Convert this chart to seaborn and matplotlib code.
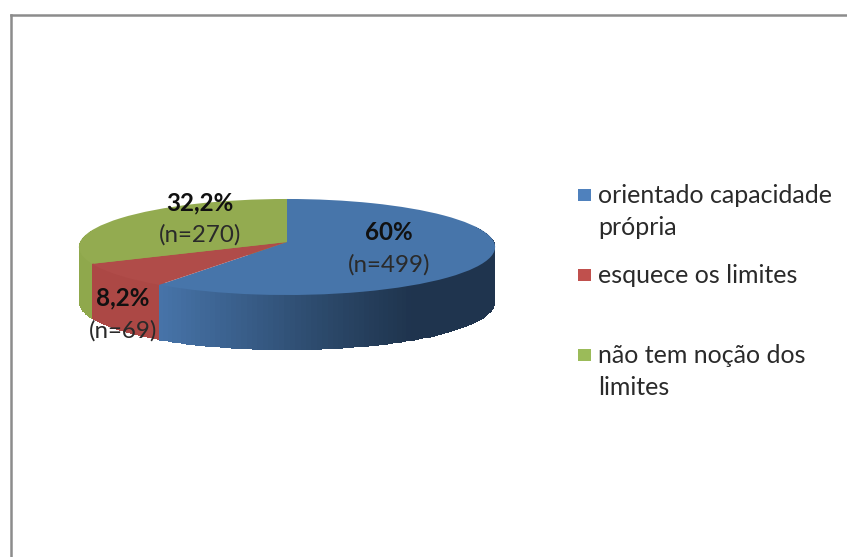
import numpy as np
import matplotlib
matplotlib.use('Agg')
import matplotlib.pyplot as plt
import seaborn as sns
from matplotlib.colors import LinearSegmentedColormap, Normalize
from matplotlib.transforms import Transform

labels = ['orientado capacidade\nprópria', 'esquece os limites', 'não tem noção dos\nlimites']
counts = [499, 69, 270]
percent_labels = ['60%', '8,2%', '32,2%']
top_colors = ['#4775AA', '#B04C49', '#93AB50']
legend_colors = ['#4F81BD', '#C0504D', '#9BBB59']
wall_colors = [['#4774A9', '#395E8A', '#2B4869', '#1F344E', '#1F344E'],
               ['#AC4845', '#AC4845'],
               ['#8FA84C', '#8FA84C']]
label_pos = [(389, 232.5, 265), (123, 297.5, 330.5), (200, 203, 235)]


class Perspective(Transform):
    # tilted disc: the back of the pie looks smaller than the front
    input_dims = 2
    output_dims = 2

    def __init__(self, cx, cy, rx, ry, k):
        super().__init__()
        self.cx, self.cy, self.rx, self.ry, self.k = cx, cy, rx, ry, k

    def transform_non_affine(self, xy):
        xy = np.asarray(xy, dtype=float)
        d = 1 + self.k * xy[:, 1]
        return np.column_stack([self.cx + self.rx * xy[:, 0] / d,
                                self.cy - self.ry * xy[:, 1] / d])


if __name__ == '__main__':
    sns.set_theme(style='white')
    plt.rcParams['font.family'] = ['Lato', 'DejaVu Sans']
    W, H = 847, 557
    fig = plt.figure(figsize=(W / 100, H / 100), dpi=100)

    frame_ax = fig.add_axes([10.5 / W, 0, 1 - 10.5 / W, 1 - 15 / H])
    frame_ax.set_xticks([])
    frame_ax.set_yticks([])
    sns.despine(ax=frame_ax, top=False, left=False, right=True, bottom=True)
    for side in ['left', 'top']:
        frame_ax.spines[side].set_color('#8C8C8C')
        frame_ax.spines[side].set_linewidth(1.8)

    ax = fig.add_axes([0, 0, 1, 1])
    ax.patch.set_alpha(0)
    persp = Perspective(287, 242, 207, 47.5, 0.104)
    depth = 55

    # side wall, one strip per step along the rim
    # green goes first, its back part must stay under the red wall
    edges = np.cumsum([0] + counts) / sum(counts) * 2 * np.pi
    for i in [2, 0, 1]:
        t = np.linspace(edges[i], edges[i + 1], 160)
        rim = persp.transform_non_affine(np.column_stack([np.sin(t), np.cos(t)]))
        X = np.vstack([rim[:, 0], rim[:, 0]])
        # top edge tucked a little under the disc so no seam shows
        Y = np.vstack([rim[:, 1] + 3 * np.cos(t), rim[:, 1] + depth])
        C = (rim[:-1, 0] + rim[1:, 0]).reshape(1, -1) / 2
        cmap = LinearSegmentedColormap.from_list('wall', wall_colors[i])
        norm = Normalize(158, 495) if i == 0 else Normalize(C.min(), C.max())
        ax.pcolormesh(X, Y, C, cmap=cmap, norm=norm, shading='flat',
                      linewidth=0, antialiased=False, zorder=1)

    wedges, _ = ax.pie(counts, colors=top_colors, startangle=90, counterclock=False,
                       wedgeprops={'linewidth': 0, 'edgecolor': 'none'})
    for w in wedges:
        w.set_transform(persp + ax.transData)
        w.set_zorder(2)

    ax.set_aspect('auto')
    ax.set_xlim(0, W)
    ax.set_ylim(H, 0)
    ax.axis('off')

    for pct, n, (x, y1, y2) in zip(percent_labels, counts, label_pos):
        ax.text(x, y1, pct, ha='center', va='center', fontsize=17.4, fontweight='bold',
                color='#111111', zorder=5)
        ax.text(x, y2, '(n=%d)' % n, ha='center', va='center', fontsize=17.4,
                color='#2A2A2A', zorder=5)

    legend_y = [195, 275, 355]
    ax.scatter([584.5] * 3, legend_y, marker='s', s=82, c=legend_colors, linewidths=0, zorder=5)
    for lab, y in zip(labels, legend_y):
        ax.text(598, y - 11, lab, ha='left', va='top', fontsize=18, color='#2A2A2A',
                linespacing=1.48, zorder=5)

    plt.savefig('out.png', dpi=100)
